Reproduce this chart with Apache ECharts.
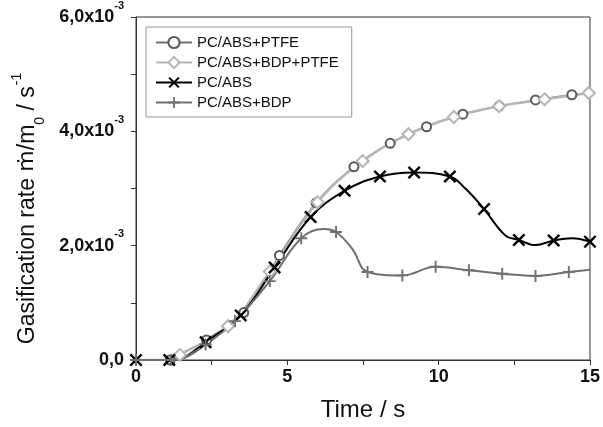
<!DOCTYPE html>
<html>
<head>
<meta charset="utf-8">
<script src="https://cdn.jsdelivr.net/npm/echarts@6/dist/echarts.min.js"></script>
<style>
  html, body { margin: 0; padding: 0; background: #fff; }
  #main { width: 603px; height: 427px; }
</style>
</head>
<body>
<div id="main"></div>
<script>
// values in units of 1e-3 s^-1, time in s
var seriesNames = ['PC/ABS+PTFE', 'PC/ABS+BDP+PTFE', 'PC/ABS', 'PC/ABS+BDP'];
var yTicks = [0, 2, 4, 6];
var xTicks = [0, 5, 10, 15];

// marker points (drawn with symbol) and extra curve points (line only)
var ptfeMarks = [[1.13, 0], [2.33, 0.35], [3.56, 0.83], [4.74, 1.83], [5.95, 2.75], [7.2, 3.38], [8.4, 3.79], [9.6, 4.08], [10.8, 4.3], [12.0, 4.44], [13.2, 4.55], [14.4, 4.64]];
var ptfeCurve = [[0, 0], [1.5, 0.03], [15, 4.67]];

var bdpPtfeMarks = [[1.45, 0.09], [3.04, 0.59], [4.42, 1.55], [6.0, 2.76], [7.49, 3.48], [9.0, 3.95], [10.5, 4.25], [12.0, 4.44], [13.5, 4.56], [14.96, 4.67]];
var bdpPtfeCurve = [[0, 0], [1.2, 0]];

var absMarks = [[0, 0], [1.1, 0], [2.3, 0.31], [3.46, 0.78], [4.58, 1.62], [5.77, 2.5], [6.89, 2.96], [8.06, 3.21], [9.19, 3.28], [10.37, 3.21], [11.5, 2.64], [12.65, 2.1], [13.8, 2.09], [15.0, 2.07]];
var absCurve = [[1.5, 0.02], [10.9, 2.99], [12.2, 2.18], [13.2, 2.01], [14.4, 2.13]];

var bdpMarks = [[0, 0], [1.15, 0], [2.3, 0.27], [3.27, 0.68], [4.42, 1.38], [5.46, 2.13], [6.61, 2.24], [7.65, 1.54], [8.8, 1.48], [9.9, 1.63], [11.0, 1.57], [12.1, 1.51], [13.2, 1.47], [14.3, 1.54]];
var bdpCurve = [[1.5, 0.02], [6.2, 2.29], [7.15, 1.94], [15, 1.58]];

function merge(marks, curve) {
  var all = marks.map(function (p) { return { value: p }; })
    .concat(curve.map(function (p) { return { value: p, symbol: 'none' }; }));
  all.sort(function (a, b) { return a.value[0] - b.value[0]; });
  return all;
}

var xPath = 'path://M0,1.3L1.3,0L5,3.7L8.7,0L10,1.3L6.3,5L10,8.7L8.7,10L5,6.3L1.3,10L0,8.7L3.7,5Z';
var plusPath = 'path://M4.2,0H5.8V4.2H10V5.8H5.8V10H4.2V5.8H0V4.2H4.2Z';

var chart = echarts.init(document.getElementById('main'));
chart.setOption({
  animation: false,
  backgroundColor: '#fff',
  grid: { left: 136, right: 12, top: 15, bottom: 65, show: true, borderColor: '#333', borderWidth: 1 },
  legend: {
    orient: 'vertical', left: 146, top: 27,
    padding: [8, 13, 7, 9],
    itemWidth: 36, itemHeight: 14, itemGap: 5,
    borderColor: '#999', borderWidth: 1,
    textStyle: { fontFamily: 'Liberation Sans', fontSize: 15, color: '#111', lineHeight: 14 },
    data: seriesNames
  },
  xAxis: {
    type: 'value', min: 0, max: 15, interval: 5,
    name: 'Time / s', nameLocation: 'middle', nameGap: 38,
    nameTextStyle: { fontFamily: 'Liberation Sans', fontSize: 24, color: '#111' },
    axisLine: { lineStyle: { color: '#333', width: 1 } },
    axisTick: { length: 5, lineStyle: { color: '#333' } },
    minorTick: { show: true, splitNumber: 2, length: 5, lineStyle: { color: '#333' } },
    splitLine: { show: false },
    axisLabel: {
      margin: 8, fontFamily: 'Liberation Sans', fontWeight: 'bold', fontSize: 18, color: '#111',
      formatter: function (v) { return xTicks.indexOf(v) >= 0 ? String(v) : ''; }
    }
  },
  yAxis: {
    type: 'value', min: 0, max: 6, interval: 2,
    name: '{a|Gasification rate }{m|ṁ}{a|/m}{sub|0}{a| / s}{sup|-1}',
    nameLocation: 'middle', nameGap: 97,
    nameTextStyle: {
      fontFamily: 'Liberation Sans', fontSize: 23, color: '#111',
      padding: [0, 40, 0, 0],
      rich: {
        a: { fontFamily: 'Liberation Sans', fontSize: 23, color: '#111' },
        m: { fontFamily: 'DejaVu Sans', fontSize: 22, color: '#111' },
        sub: { fontFamily: 'Liberation Sans', fontSize: 14, color: '#111', verticalAlign: 'bottom', padding: [0, 0, -8, 0] },
        sup: { fontFamily: 'Liberation Sans', fontSize: 14, color: '#111', verticalAlign: 'top', padding: [-6, 0, 0, 1] }
      }
    },
    axisLine: { show: true, lineStyle: { color: '#333', width: 1 } },
    axisTick: { show: true, length: 5, lineStyle: { color: '#333' } },
    minorTick: { show: true, splitNumber: 2, length: 5, lineStyle: { color: '#333' } },
    splitLine: { show: false },
    axisLabel: {
      margin: 12, color: '#111',
      formatter: function (v) {
        if (yTicks.indexOf(v) < 0) return '';
        if (v === 0) return '{b|0,0}';
        return '{b|' + v.toFixed(1).replace('.', ',') + 'x10}{s|-3}';
      },
      rich: {
        b: { fontFamily: 'Liberation Sans', fontWeight: 'bold', fontSize: 18, color: '#111' },
        s: { fontFamily: 'Liberation Sans', fontWeight: 'bold', fontSize: 11, color: '#111', verticalAlign: 'top', padding: [-8, 0, 0, 0] }
      }
    }
  },
  series: [
    {
      name: seriesNames[0], type: 'line', smooth: 0.4, data: merge(ptfeMarks, ptfeCurve),
      symbol: 'emptyCircle', symbolSize: 9, showAllSymbol: true,
      lineStyle: { color: '#707070', width: 1.5 },
      itemStyle: { color: '#5a5a5a', borderColor: '#5a5a5a', borderWidth: 2 }
    },
    {
      name: seriesNames[1], type: 'line', smooth: 0.4, data: merge(bdpPtfeMarks, bdpPtfeCurve),
      symbol: 'emptyDiamond', symbolSize: 12, showAllSymbol: true,
      lineStyle: { color: '#b6b6b6', width: 2.5 },
      itemStyle: { color: '#b6b6b6', borderColor: '#b6b6b6', borderWidth: 2 }
    },
    {
      name: seriesNames[2], type: 'line', smooth: 0.4, data: merge(absMarks, absCurve),
      symbol: xPath, symbolSize: 13, showAllSymbol: true,
      lineStyle: { color: '#000', width: 2 },
      itemStyle: { color: '#000', borderWidth: 0 }
    },
    {
      name: seriesNames[3], type: 'line', smooth: 0.4, data: merge(bdpMarks, bdpCurve),
      symbol: plusPath, symbolSize: 12, showAllSymbol: true,
      lineStyle: { color: '#707070', width: 2 },
      itemStyle: { color: '#707070', borderWidth: 0 }
    }
  ]
});
</script>
</body>
</html>
